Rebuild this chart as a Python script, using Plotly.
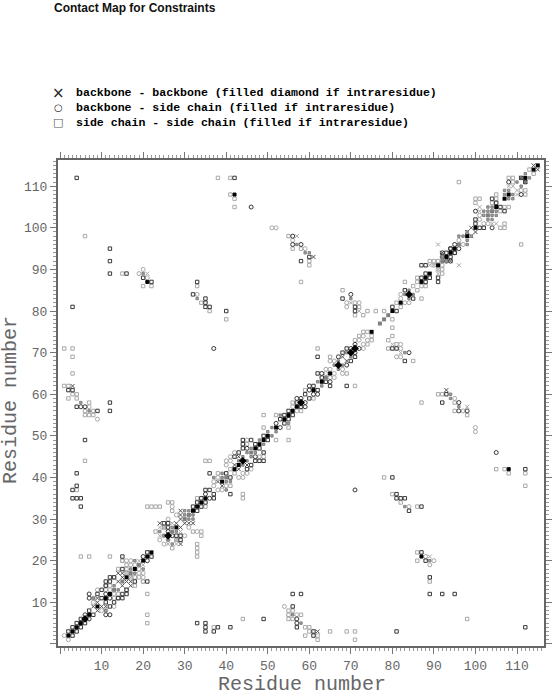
import plotly.graph_objects as go

TITLE = "Contact Map for Constraints"
AXIS_TITLE = "Residue number"
LEGEND_NAMES = ["backbone - backbone (filled diamond if intraresidue)",
                "backbone - side chain (filled if intraresidue)",
                "side chain - side chain (filled if intraresidue)"]
LEGEND_GLYPHS = ["\u00d7", "\u25cb", "\u25a1"]
TICKS = list(range(0, 120, 10))
TICK_LABELS = [""] + [str(v) for v in TICKS[1:]]

# contacts as (residue i, residue j), i < j; the map is symmetric
sq_light = [(6,98),(15,89),(20,86),(22,86),(33,86),(34,82),(36,80),(40,78),(1,71),(3,71),(3,69),(3,65),
 (1,62),(2,62),(3,60),(4,60),(2,59),(7,58),(6,56),(8,56),(6,55),(7,55),(8,55),(6,44),(4,37),
 (21,33),(22,33),(23,33),(24,33),(26,34),(27,34),(27,32),(5,21),(7,21),(12,21),(15,20),(36,44),
 (38,112),(41,112),(41,108),(42,107),(42,105),(96,111),(58,87),(55,98),(58,95),(60,92),(60,91),(56,95),
 (68,85),(71,79),(73,79),(72,81),(74,80),(62,71),(65,69),(4,59),(23,27),(28,25),
 (33,35),(38,41),(41,42),(45,48),(49,52),(52,55),(49,55),(59,61),(72,74),(73,75),(74,75),(76,80),(78,80),
 (81,82),(85,86),(83,87),(86,87),(86,88),(91,92),(89,92),(90,92),(100,106),(100,107),(101,107),(104,106),
 (105,107),(105,108),(108,112),(109,112),(113,114),(16,18),(16,19),(14,18),(13,16),(16,17),(25,28),(56,58),
 (35,44)]
sq_dark = [(4,112),(12,95),(12,92),(12,89),(16,89),(20,88),(22,87),(33,87),(32,84),(35,83),(35,82),(35,81),
 (36,81),(40,80),(3,81),(2,61),(3,61),(4,57),(12,58),(12,56),(9,56),(6,49),(4,41),(4,38),(3,37),(3,35),
 (4,35),(5,35),(5,33),(15,21),(42,112),(58,92),(60,93),(68,83),(71,81),(71,80),(62,69),(62,65),
 (2,3),(3,4),(4,5),(5,6),(7,8),(9,12),(10,11),(10,13),(11,14),(11,15),(12,15),(12,16),(13,16),(15,18),
 (21,22),(25,29),(26,28),(26,29),(32,33),(33,34),(34,35),(35,37),(36,37),(36,41),(40,41),(42,45),(43,46),
 (44,47),(44,48),(44,49),(46,49),(47,48),(49,50),(53,54),(54,55),(55,56),(57,58),(59,60),(61,62),(63,64),
 (68,70),(69,71),(80,81),(83,85),(87,88),(88,89),(88,91),(87,91),(93,94),(94,95),(100,101),(100,102),(105,106),(104,107),(111,112)]
circle_light = [(19,89),(20,90),(21,88),(33,84),(27,33),(7,57),(9,54),(51,100),(52,100),(56,97),(59,95),
 (69,82),(71,82),(72,82),(69,81),(1,2),(8,10),(8,11),(9,13),(11,13),(12,13),(11,14),(12,14),(18,19),(16,20),
 (17,20),(17,19),(24,25),(26,30),(28,31),(37,38),(37,39),(38,40),(40,43),(40,44),(41,44),(41,45),(42,46),
 (45,49),(56,57),(64,66),(65,66),(65,68),(66,68),(71,73),(72,73),(73,74),(82,83),(82,84),(64,65),(90,91),
 (96,97),(101,102),(101,103),(109,111),(25,26),(15,20)]
circle_dark = [(37,71),(46,105),(56,98),(56,96),(58,96),(70,84),(6,57),(5,57),(7,11),(7,12),(6,7),
 (11,12),(20,21),(26,27),(35,36),(45,47),(52,53),(57,59),(58,59),(60,61),(60,62),(63,65),(67,69),(70,71),(71,72),
 (92,94),(95,96),(100,104),(108,111),(92,93),(94,95)]
x_light = [(21,89),(57,98),(72,80),(70,82),(19,20),(24,28),(24,26),(25,28),(27,29),(16,17),(101,104),(101,105),
 (108,110),(109,110),(89,91),(90,91),(91,96)]
x_dark = [(61,93),(3,62),(8,9),(9,10),(9,11),(14,15),(15,16),(14,17),(15,17),(24,29),(28,29),(29,30),(29,31),
 (29,32),(38,39),(42,43),(43,45),(68,69),(92,94),(98,99),(99,100),(111,112),(114,115)]
both_gray = [(33,83),(5,58),(7,56),(57,96),(59,94),(70,83),(13,14),(17,18),(18,20),(24,27),(25,26),(27,28),(30,31),
 (30,32),(31,32),(37,40),(39,40),(39,41),(43,44),(44,45),(45,46),(46,47),(48,49),(50,51),(51,52),(53,55),
 (62,63),(66,67),(67,68),(69,70),(83,84),(84,85),(92,93),(96,98),(97,98),(98,99),(102,103),(102,104),
 (103,104),(103,105),(104,105),(107,108),(107,109),(108,109),(110,111),(112,113),(20,89),(60,94),(8,11)]
diag_black = [2,3,4,5,7,9,11,12,16,18,20,21,22,28,32,33,34,35,39,42,43,47,48,49,50,52,54,55,56,57,61,63,65,75,
 80,82,87,88,89,91,93,94,95,98,100,105,107,108,112,114,115]
diag_diamond = [6,26,44,58,67,70,71,84]
diag_gray = [13,15,17,19,27,30,31,40,46,64,77,78,79,92,96,103,104]
far_black = [(21,87),(42,108)]

def both(pairs):
    xs = [p[0] for p in pairs] + [p[1] for p in pairs]
    ys = [p[1] for p in pairs] + [p[0] for p in pairs]
    return xs, ys

fig = go.Figure()
DARK = "#383838"; LIGHT = "#a8a8a8"

def add(pairs, symbol, color, size, fill=None):
    xs, ys = both(pairs)
    m = dict(symbol=symbol, size=size, color=fill or color, line=dict(color=color, width=1))
    fig.add_trace(go.Scatter(x=xs, y=ys, mode="markers", marker=m, showlegend=False, hoverinfo="skip"))

def add_diag(vals, symbol, color, size):
    fig.add_trace(go.Scatter(x=vals, y=vals, mode="markers", showlegend=False, hoverinfo="skip",
                             marker=dict(symbol=symbol, size=size, color=color, line=dict(width=0))))

add(sq_light, "square-open", LIGHT, 3.4)
add(circle_light, "circle-open", LIGHT, 4)
add(x_light, "x-thin-open", LIGHT, 4)
add(x_dark, "x-thin-open", "#505050", 4)
add(sq_dark, "square-open", DARK, 3.4)
add(circle_dark, "circle-open", DARK, 4)
add(both_gray, "square", "#808080", 2.4, "#a0a0a0")
add_diag(diag_gray, "square", "#808080", 4)
add(far_black, "square", "#000000", 3)
add_diag(diag_black, "square", "#000000", 4)
add_diag(diag_diamond, "diamond", "#000000", 6)

axis = dict(tickmode="array", tickvals=TICKS, ticktext=TICK_LABELS, ticks="outside", ticklen=6,
            tickcolor="#777777", tickwidth=1, showgrid=False, zeroline=False, showline=True, linecolor="#666666",
            linewidth=2, mirror="ticks", tickfont=dict(family="Liberation Mono", size=13, color="#666666"),
            minor=dict(dtick=1, tick0=0, ticks="outside", ticklen=3, tickcolor="#999999", tickwidth=1, showgrid=False))

L, T, W, H = 58, 160, 486, 486
def note(px, py, text, font, xanchor="left", **kw):
    return dict(xref="paper", yref="paper", x=(px - L) / W, y=(T + H - py) / H, text=text, showarrow=False,
                xanchor=xanchor, yanchor="middle", font=font, **kw)

TITLE_FONT = dict(family="Liberation Mono", size=20, color="#666666")
LEG_FONT = dict(family="Liberation Mono", size=11.57, color="#000000", weight="bold")
notes = [note(302, 684, AXIS_TITLE, TITLE_FONT, "center"),
         note(10, 400, AXIS_TITLE, TITLE_FONT, "center", textangle=-90)]
for py, name, g, gs, gc in zip([92.5, 107.5, 123], LEGEND_NAMES, LEGEND_GLYPHS, [15, 10, 11], ["#222222", "#222222", "#555555"]):
    notes.append(note(74, py, name, LEG_FONT))
    notes.append(note(58, py, g, dict(family="DejaVu Sans", size=gs, color=gc), "center"))

fig.update_layout(
    width=552, height=696, autosize=False,
    margin=dict(l=L, r=552 - L - W, t=T, b=696 - T - H, autoexpand=False),
    paper_bgcolor="white", plot_bgcolor="white", showlegend=False,
    title=dict(text="<b>" + TITLE + "</b>", x=54/552, xanchor="left", xref="container",
               y=1-7.5/696, yanchor="middle", font=dict(family="Liberation Sans", size=12, color="#111111")),
    xaxis=dict(axis, range=[-0.5, 116.5]),
    yaxis=dict(axis, range=[-0.5, 116.3]),
    annotations=notes,
)
fig.write_html("out.html", config={"displayModeBar": False}, post_script="document.body.style.margin='0';")
